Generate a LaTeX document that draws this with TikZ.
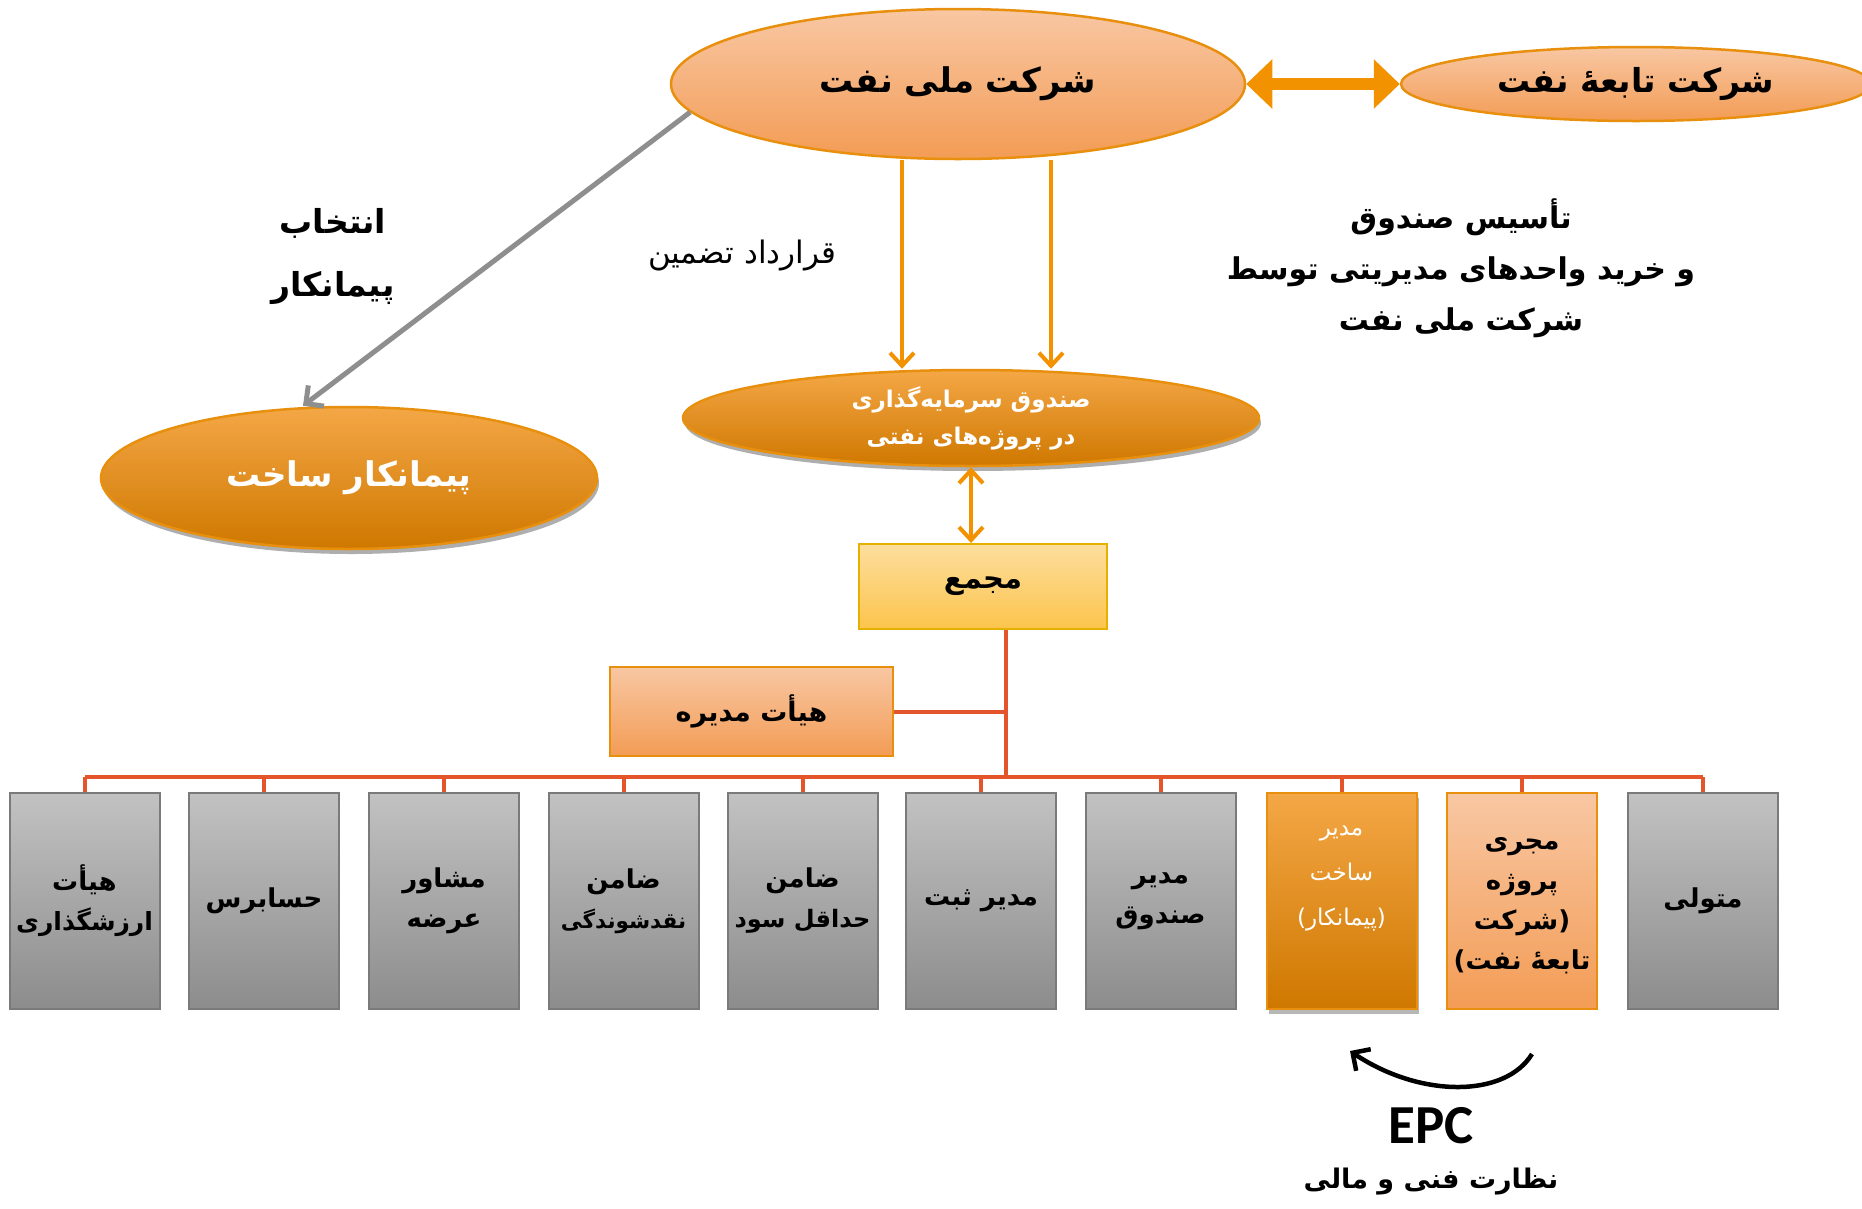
\documentclass[tikz,border=0pt]{standalone}
\usepackage{fontspec}
\setmainfont{Carlito}
\newfontfamily\arabicfont[Script=Arabic]{DejaVu Sans}
\TeXXeTstate=1
\usetikzlibrary{arrows.meta,shadows,shapes.geometric}
\newcommand{\pers}[1]{\beginR #1\endR}
\newcommand{\afont}[2]{\arabicfont\bfseries\fontsize{#1}{#2}\selectfont}
\newcommand{\rfont}[2]{\arabicfont\fontsize{#1}{#2}\selectfont}
\newcommand{\fsz}[1]{\fontsize{#1}{40}\selectfont}
\definecolor{peachT}{HTML}{F8C7A3}
\definecolor{peachB}{HTML}{F39C55}
\definecolor{oborder}{HTML}{E8900E}
\definecolor{darkT}{HTML}{F4A746}
\definecolor{darkB}{HTML}{CF7800}
\definecolor{yellT}{HTML}{FDDE9E}
\definecolor{yellB}{HTML}{FCC44C}
\definecolor{yborder}{HTML}{E6B000}
\definecolor{grayT}{HTML}{C2C2C2}
\definecolor{grayB}{HTML}{8C8C8C}
\definecolor{gborder}{HTML}{7A7A7A}
\definecolor{busred}{HTML}{E5552B}
\definecolor{arrorange}{HTML}{F39200}
\definecolor{arrgray}{HTML}{8E8E8E}
\begin{document}
\begin{tikzpicture}[x=1pt,y=-1pt,
  lightell/.style={ellipse,draw=oborder,line width=2.5pt,top color=peachT,bottom color=peachB,inner sep=0pt},
  darkell/.style={ellipse,draw=oborder,line width=2.5pt,top color=darkT,bottom color=darkB,inner sep=0pt,text=white,
     drop shadow={shadow xshift=2pt,shadow yshift=-5pt,opacity=0.45,fill=black!70}},
  graybox/.style={rectangle,draw=gborder,line width=2pt,top color=grayT,bottom color=grayB,minimum width=150pt,minimum height=216pt,inner sep=0pt,align=center,font=\afont{26}{40}},
  orbox/.style={rectangle,draw=oborder,line width=2pt,top color=peachT,bottom color=peachB,inner sep=0pt,align=center},
  darkbox/.style={rectangle,draw=oborder,line width=2pt,top color=darkT,bottom color=darkB,minimum width=150pt,minimum height=216pt,inner sep=0pt,
     drop shadow={shadow xshift=2pt,shadow yshift=-5pt,opacity=0.4,fill=black!70}},
  yelbox/.style={rectangle,draw=yborder,line width=2pt,top color=yellT,bottom color=yellB,inner sep=0pt},
  busline/.style={draw=busred,line width=4pt},
  orline/.style={draw=arrorange,line width=4pt,-{Straight Barb[length=13pt,width=24pt]}},
  orboth/.style={draw=arrorange,line width=4pt,{Straight Barb[length=13pt,width=24pt]}-{Straight Barb[length=13pt,width=24pt]}},
  bigboth/.style={draw=arrorange,line width=12pt,{Triangle[length=26pt,width=48pt]}-{Triangle[length=26pt,width=48pt]}},
  grayline/.style={draw=arrgray,line width=5pt,-{Straight Barb[length=13pt,width=26pt]}},
  blackcurve/.style={draw=black,line width=4.5pt,-{Straight Barb[length=13pt,width=26pt]}},
  txt/.style={align=center,inner sep=0pt}
]
\useasboundingbox (0,0) rectangle (1862,1208);
\clip (0,0) rectangle (1862,1208);
\fill[white] (0,0) rectangle (1862,1208);

% top ellipses
\node[lightell,minimum width=574pt,minimum height=150pt,font=\afont{34}{42}] (main) at (958,84) {\pers{شرکت ملی نفت}};
\node[lightell,minimum width=470pt,minimum height=74pt,font=\afont{33}{40}] (sub) at (1636,84) {\pers{شرکت تابعهٔ نفت}};
\draw[bigboth] (main.east) -- (sub.west);

% fund and contractor ellipses
\node[darkell,minimum width=576pt,minimum height=96pt,align=center,font=\afont{23}{37}] (fund) at (971,418) {\pers{صندوق سرمایه‌گذاری}\\\pers{در پروژه‌های نفتی}};
\node[darkell,minimum width=496pt,minimum height=142pt,font=\afont{34}{42}] (left) at (349,478) {\pers{پیمانکار ساخت}};

% free texts
\node[txt,font=\afont{33}{63}] (sel) at (333,256) {\pers{انتخاب}\\\pers{پیمانکار}};
\node[txt,font=\rfont{31}{36}] (contract) at (742,256) {\pers{قرارداد تضمین}};
\node[txt,font=\afont{30}{51}] (found) at (1461,268) {\pers{تأسیس صندوق}\\\pers{و خرید واحدهای مدیریتی توسط}\\\pers{شرکت ملی نفت}};

% arrows from main
\draw[grayline] (main.186) -- ([xshift=-46pt]left.north);
\draw[orline] ([xshift=-56pt]main.south) -- ([xshift=-69pt]fund.north);
\draw[orline] ([xshift=93pt]main.south) -- ([xshift=80pt]fund.north);

% majma and board
\node[yelbox,minimum width=248pt,minimum height=85pt,font=\afont{29}{36}] (majma) at (983,586.5) {\pers{مجمع}};
\node[orbox,minimum width=283pt,minimum height=89pt,font=\afont{27}{36}] (board) at (751.5,711.5) {\pers{هیأت مدیره}};
\draw[orboth] (fund.south) -- ([xshift=-12pt]majma.north);

% bottom boxes
\node[graybox] (b1) at (84.5,901) {\pers{هیأت}\\\fsz{25}\pers{ارزشگذاری}};
\node[graybox] (b2) at (264,901) {\pers{حسابرس}};
\node[graybox] (b3) at (444,901) {\pers{مشاور}\\\pers{عرضه}};
\node[graybox] (b4) at (623.5,901) {\pers{ضامن}\\\fsz{21.5}\pers{نقدشوندگی}};
\node[graybox] (b5) at (802.5,901) {\pers{ضامن}\\\fsz{24}\pers{حداقل سود}};
\node[graybox] (b6) at (981,901) {\pers{مدیر ثبت}};
\node[graybox] (b7) at (1160.5,901) {\pers{مدیر}\\\pers{صندوق}};
\node[darkbox,text=white,font=\rfont{23}{45}] (b8) at (1341.5,901)
  {\raisebox{30pt}[\height][\depth]{\begin{tabular}{@{}c@{}}\pers{مدیر}\\\pers{ساخت}\\\pers{(پیمانکار)}\end{tabular}}};
\node[orbox,minimum width=150pt,minimum height=216pt,font=\afont{26}{40}] (b9) at (1522,901)
  {\raisebox{0pt}[\height][\depth]{\begin{tabular}{@{}c@{}}\pers{مجری}\\\pers{پروژه}\\\pers{(شرکت}\\\pers{تابعهٔ نفت)}\end{tabular}}};
\node[graybox] (b10) at (1703,901) {\pers{متولی}};

% bus lines
\coordinate (j) at ([xshift=23pt]majma.south);
\coordinate (busL) at ([yshift=15pt]b1.north);
\coordinate (busR) at ([yshift=15pt]b10.north);
\draw[busline] (busL) -- (busR);
\draw[busline] (j) -- (j |- busL);
\draw[busline] (board.east) -- (board.east -| j);
\foreach \b in {b1,b2,b3,b4,b5,b6,b7,b8,b9,b10}{
  \draw[busline] (\b.north) -- ([yshift=15pt]\b.north);
}

% EPC curved arrow
\coordinate (c1) at (1532,1054);
\coordinate (c2) at (1350,1051);
\draw[blackcurve] (c1) .. controls (1505,1098) and (1420,1098) .. (c2);
\node[txt,font=\bfseries\fontsize{55}{60}\selectfont] (epc) at (1431,1126) {EPC};
\node[txt,font=\afont{27}{34}] (sup) at (1431,1182) {\pers{نظارت فنی و مالی}};
\end{tikzpicture}
\end{document}
